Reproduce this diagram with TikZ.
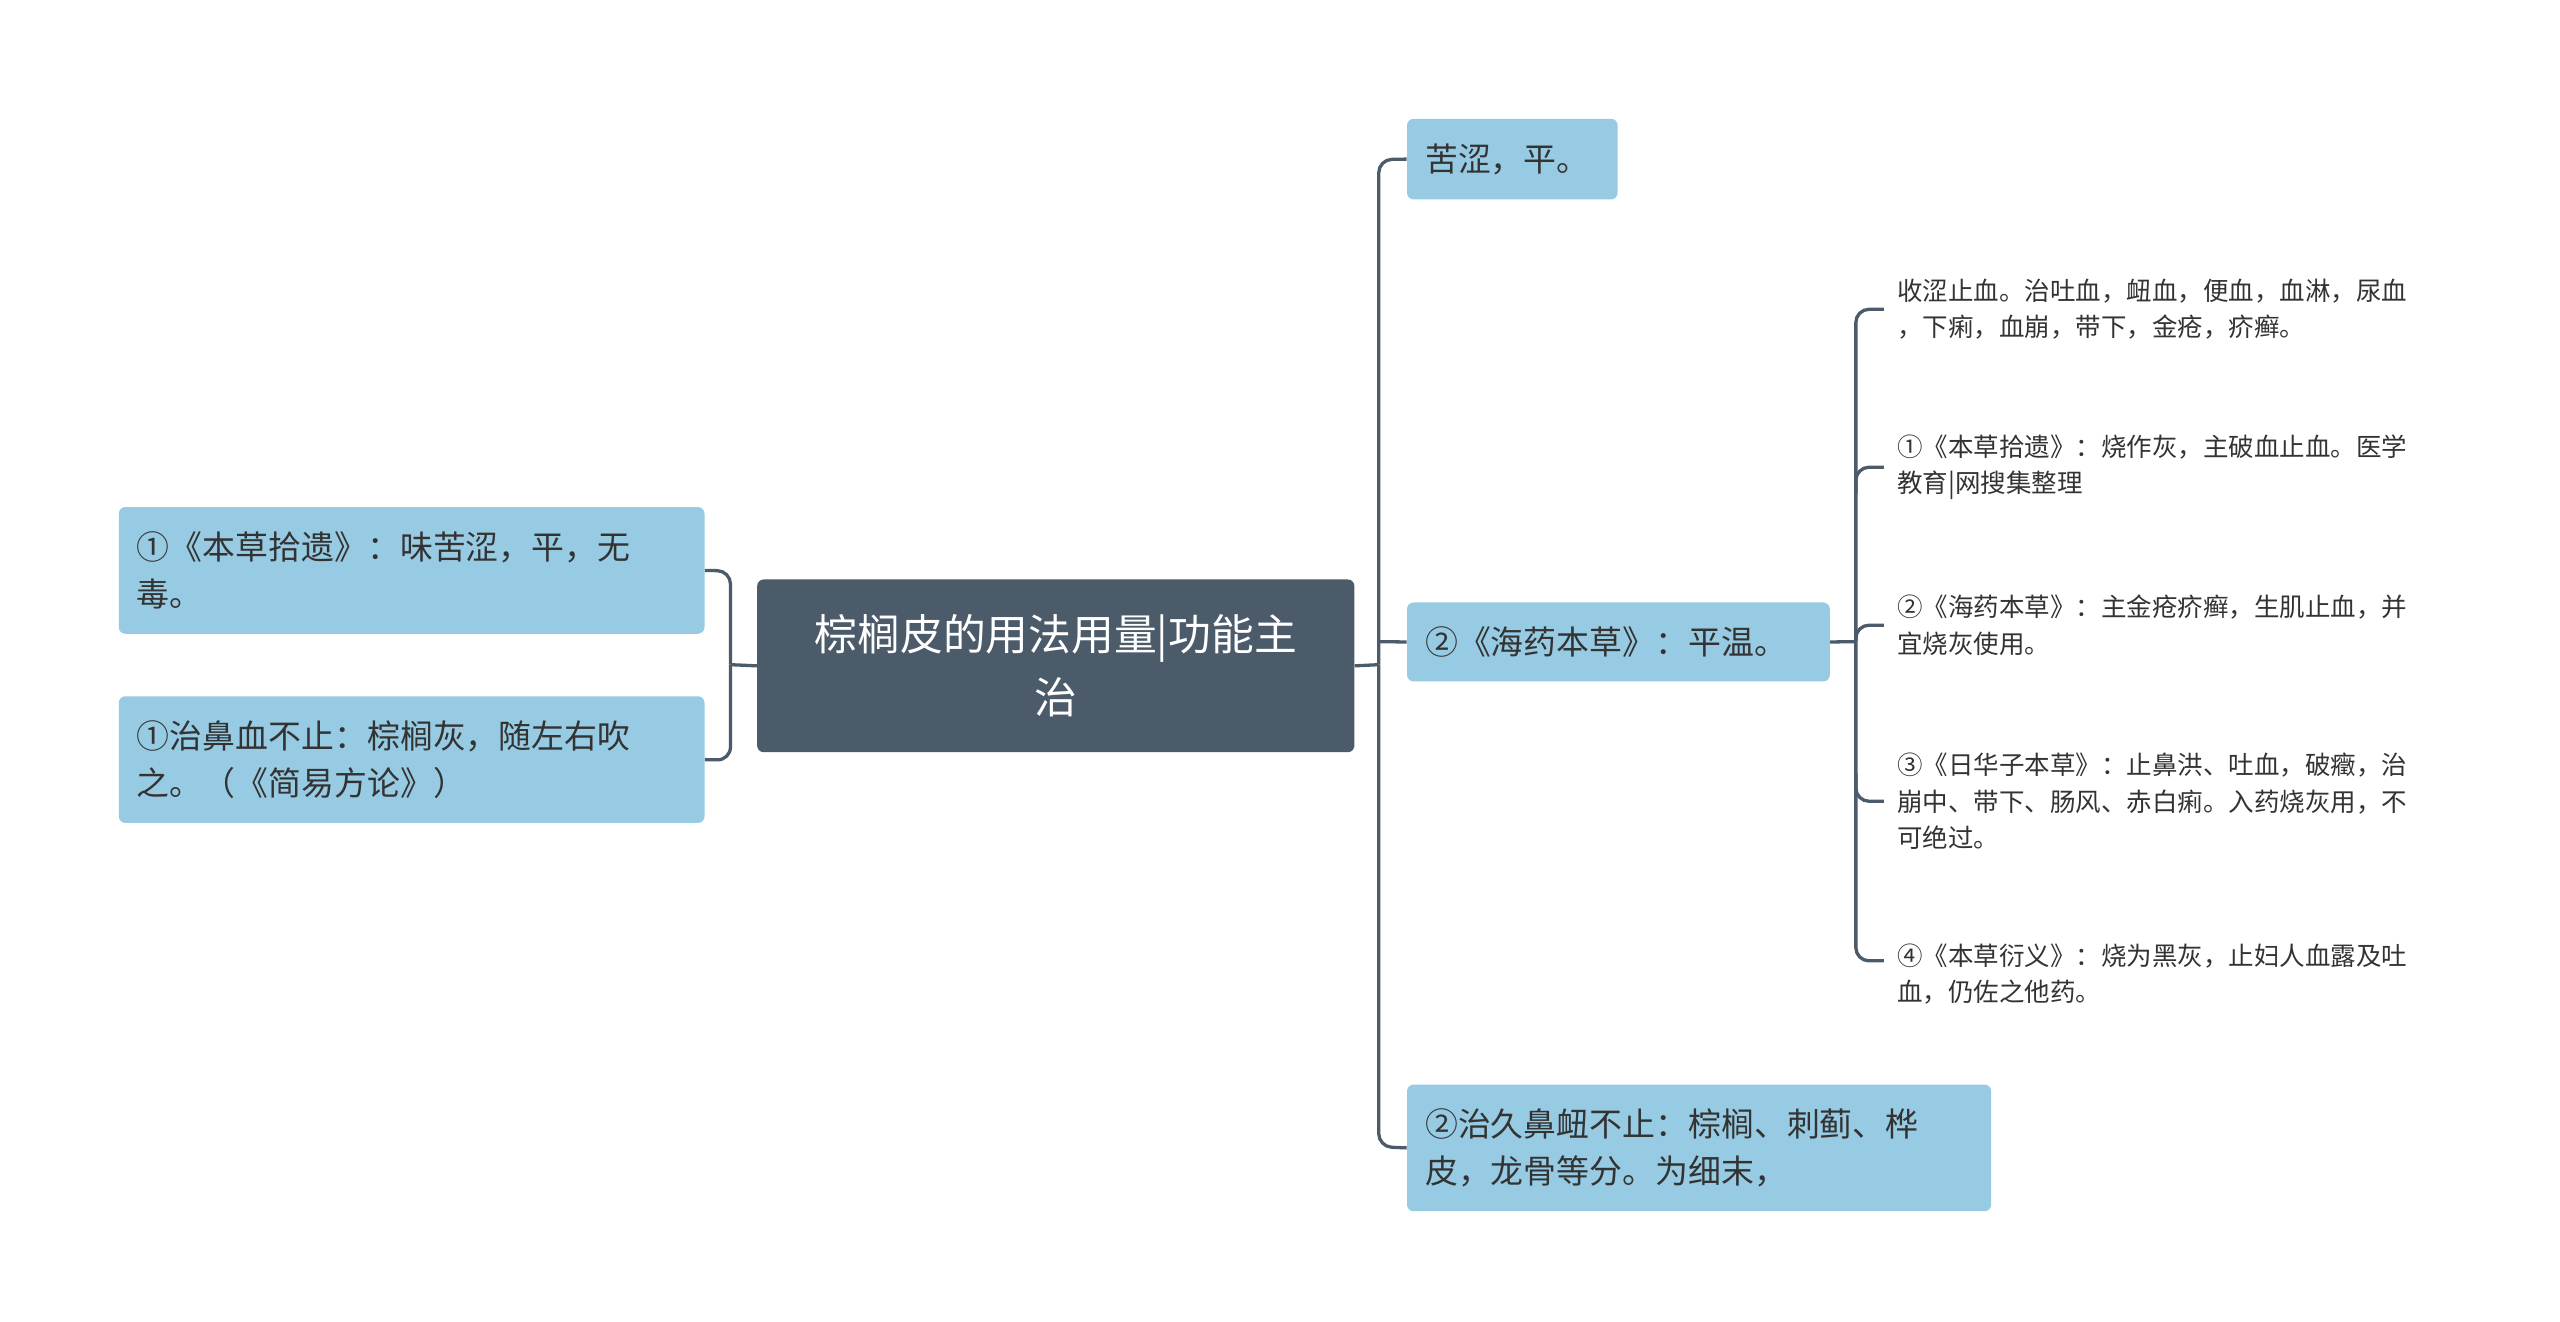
\documentclass[tikz,border=0pt]{standalone}
\usepackage{fontspec}
\setmainfont{Noto Sans CJK SC}
\begin{document}
\begin{tikzpicture}[x=1pt,y=-1pt,
 box/.style={fill=boxc,rounded corners=4pt,anchor=north west,inner xsep=11pt,inner ysep=0pt,align=left,font=\fontsize{20}{29}\selectfont,text=txt},
 leaf/.style={anchor=west,inner sep=0pt,align=left,font=\fontsize{15.5}{22}\selectfont,text=txt},
 ln/.style={draw=linec,line width=2pt,rounded corners=8pt}]
\definecolor{boxc}{HTML}{97CBE3}
\definecolor{cen}{HTML}{4B5B6A}
\definecolor{linec}{HTML}{4B5B6A}
\definecolor{txt}{HTML}{333333}
\useasboundingbox[fill=white] (0,0) rectangle (1556,803);
\node[box,fill=cen,text=white,minimum width=363pt,minimum height=105pt,text width=341pt,align=center,font=\fontsize{26}{38}\selectfont] (c) at (460,352) {棕榈皮的用法用量|功能主\\治};
\node[box,minimum width=356pt,minimum height=77pt,text width=334pt] (l1) at (72,308) {①《本草拾遗》：味苦涩，平，无\\毒。};
\node[box,minimum width=356pt,minimum height=77pt,text width=334pt] (l2) at (72,423) {①治鼻血不止：棕榈灰，随左右吹\\之。（《简易方论》）};
\node[box,minimum width=128pt,minimum height=49pt,text width=106pt] (r1) at (855,72) {苦涩，平。};
\node[box,minimum width=257pt,minimum height=48pt,text width=235pt] (r2) at (855,366) {②《海药本草》：平温。};
\node[box,minimum width=355pt,minimum height=77pt,text width=333pt] (r3) at (855,659) {②治久鼻衄不止：棕榈、刺蓟、桦\\皮，龙骨等分。为细末，};
\node[leaf] (s1) at (1153,188) {收涩止血。治吐血，衄血，便血，血淋，尿血\\，下痢，血崩，带下，金疮，疥癣。};
\node[leaf] (s2) at (1153,284) {①《本草拾遗》：烧作灰，主破血止血。医学\\教育|网搜集整理};
\node[leaf] (s3) at (1153,380) {②《海药本草》：主金疮疥癣，生肌止血，并\\宜烧灰使用。};
\node[leaf] (s4) at (1153,487) {③《日华子本草》：止鼻洪、吐血，破癥，治\\崩中、带下、肠风、赤白痢。入药烧灰用，不\\可绝过。};
\node[leaf] (s5) at (1153,592) {④《本草衍义》：烧为黑灰，止妇人血露及吐\\血，仍佐之他药。};
% left
\draw[ln] (c.west) -- (444,404);
\draw[ln] (l1.east) -- (444,347) -- (444,404);
\draw[ln] (l2.east) -- (444,462) -- (444,404);
% right
\draw[ln] (c.east) -- (838,404);
\draw[ln] (r1.west) -- (838,97) -- (838,404);
\draw[ln] (r3.west) -- (838,697) -- (838,404);
\draw[ln] (r2.west) -- (838,390);
% sub
\draw[ln] (r2.east) -- (1128,390);
\draw[ln] (1145,188) -- (1128,188) -- (1128,390);
\draw[ln] (1145,584) -- (1128,584) -- (1128,390);
\draw[ln] (1145,284) -- (1128,284) -- (1128,300);
\draw[ln] (1145,380) -- (1128,380) -- (1128,390);
\draw[ln] (1145,487) -- (1128,487) -- (1128,470);
\end{tikzpicture}
\end{document}
